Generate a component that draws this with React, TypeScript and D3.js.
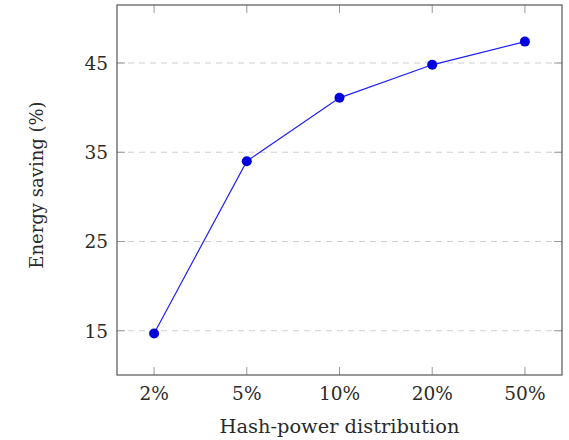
import React from "react";
import * as d3 from "d3";

const categories = ["2%", "5%", "10%", "20%", "50%"];
const savings = [14.7, 34.0, 41.1, 44.8, 47.4];
const yTicks = [15, 25, 35, 45];

const W = 569;
const H = 440;
const left = 117;
const right = 562;
const top = 5;
const bottom = 375;
const FONT = "'DejaVu Serif', serif";
const FS = 18.5;
const TEXT = "#2a2a2a";

export default function App() {
  const x = d3
    .scalePoint<string>()
    .domain(categories)
    .range([left, right])
    .padding(0.4);
  const y = d3.scaleLinear().domain([10.04, 51.5]).range([bottom, top]);
  const line = d3
    .line<number>()
    .x((_, i) => x(categories[i]) as number)
    .y((d) => y(d));

  const tickLen = 8;

  return (
    <div style={{ position: "absolute", left: 0, top: 0 }}>
      <svg width={W} height={H} style={{ display: "block" }}>
        <rect width={W} height={H} fill="#fff" />
        {yTicks.map((t) => (
          <line
            key={"g" + t}
            x1={left}
            x2={right}
            y1={y(t)}
            y2={y(t)}
            stroke="#cfcfcf"
            strokeWidth={1}
            strokeDasharray="6,5"
          />
        ))}
        {categories.map((c) => (
          <g key={"xt" + c}>
            <line x1={x(c)} x2={x(c)} y1={bottom} y2={bottom - tickLen} stroke="#999" strokeWidth={1} />
            <line x1={x(c)} x2={x(c)} y1={top} y2={top + tickLen} stroke="#999" strokeWidth={1} />
            <text
              x={x(c)}
              y={400}
              textAnchor="middle"
              fontFamily={FONT}
              fontSize={FS}
              fill={TEXT}
            >
              {c}
            </text>
          </g>
        ))}
        {yTicks.map((t) => (
          <g key={"yt" + t}>
            <line x1={left} x2={left + tickLen} y1={y(t)} y2={y(t)} stroke="#999" strokeWidth={1} />
            <line x1={right} x2={right - tickLen} y1={y(t)} y2={y(t)} stroke="#999" strokeWidth={1} />
            <text
              x={108}
              y={y(t) + 7}
              textAnchor="end"
              fontFamily={FONT}
              fontSize={FS}
              fill={TEXT}
            >
              {t}
            </text>
          </g>
        ))}
        <rect
          x={left}
          y={top}
          width={right - left}
          height={bottom - top}
          fill="none"
          stroke="#555"
          strokeWidth={1.2}
        />
        <path d={line(savings) || ""} fill="none" stroke="#2020ff" strokeWidth={1.2} />
        {savings.map((v, i) => (
          <circle key={"p" + i} cx={x(categories[i])} cy={y(v)} r={5} fill="#0000dd" />
        ))}
        <text
          x={(left + right) / 2}
          y={433}
          textAnchor="middle"
          fontFamily={FONT}
          fontSize={19.4}
          fill={TEXT}
        >
          Hash-power distribution
        </text>
        <text
          transform={`translate(43, 185) rotate(-90)`}
          textAnchor="middle"
          fontFamily={FONT}
          fontSize={18}
          fill={TEXT}
        >
          Energy saving (%)
        </text>
      </svg>
    </div>
  );
}
